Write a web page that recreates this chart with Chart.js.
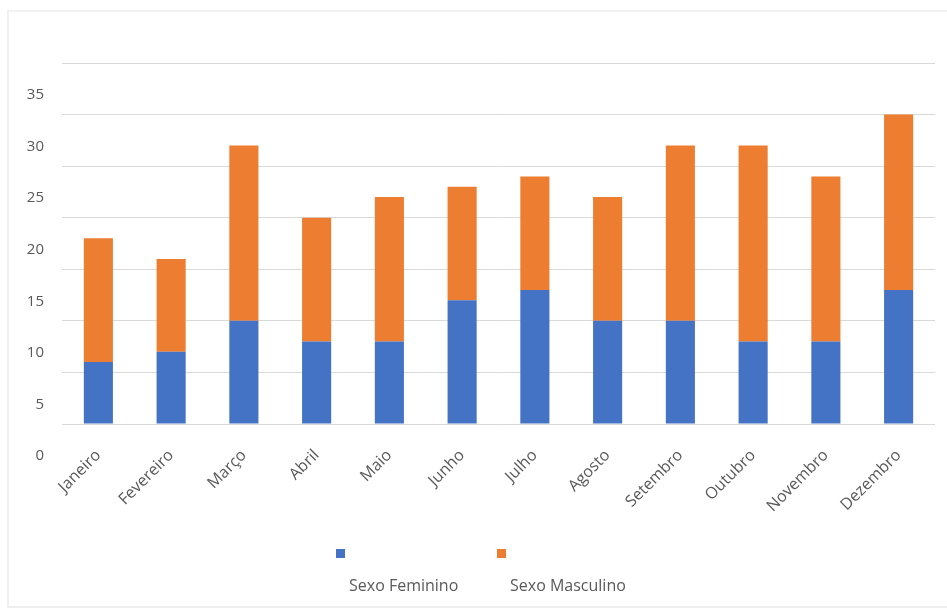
<!DOCTYPE html>
<html lang="pt">
<head>
<meta charset="utf-8">
<title>Casos por mês e sexo</title>
<script src="https://cdn.jsdelivr.net/npm/chart.js@4.4.0/dist/chart.umd.min.js"></script>
<style>
  body { margin: 0; background: #fff; }
  .wrap { position: relative; width: 947px; height: 615px; }
  .frame {
    position: absolute; left: 7px; top: 10px; right: 0; bottom: 7px;
    border-left: 2px solid #f0f0f0; border-top: 2px solid #f2f2f2; border-bottom: 2px solid #efefef;
    pointer-events: none;
  }
  #grafico { position: absolute; left: 0; top: 0; }
  #legenda {
    position: absolute; left: 336px; top: 549px; display: flex;
    font-family: "Open Sans", sans-serif; font-size: 16px; color: #595959;
  }
  #legenda .item { width: 161px; }
  #legenda .marca { width: 9px; height: 9px; }
  #legenda .texto { margin: 16px 0 0 13px; white-space: nowrap; }
</style>
</head>
<body>
<div class="wrap">
  <div class="frame"></div>
  <canvas id="grafico" width="947" height="615"></canvas>
  <div id="legenda"></div>
</div>
<script>
const meses = ["Janeiro", "Fevereiro", "Março", "Abril", "Maio", "Junho",
  "Julho", "Agosto", "Setembro", "Outubro", "Novembro", "Dezembro"];
const feminino = [6, 7, 10, 8, 8, 12, 13, 10, 10, 8, 8, 13];
const masculino = [12, 9, 17, 12, 14, 11, 11, 12, 17, 19, 16, 17];
const eixoY = [0, 5, 10, 15, 20, 25, 30, 35];

const cores = ["#4472C4", "#ED7D31"];

const chart = new Chart(document.getElementById("grafico"), {
  type: "bar",
  data: {
    labels: meses,
    datasets: [
      { label: "Sexo Feminino", data: feminino, backgroundColor: cores[0] },
      { label: "Sexo Masculino", data: masculino, backgroundColor: cores[1] },
    ],
  },
  options: {
    responsive: false,
    animation: false,
    barPercentage: 0.4,
    categoryPercentage: 1,
    layout: { padding: { top: 63, right: 12, left: 0, bottom: 0 } },
    plugins: { legend: { display: false }, tooltip: { enabled: false } },
    scales: {
      x: {
        stacked: true,
        grid: { display: false },
        border: { display: false },
        ticks: {
          color: "#595959", font: { family: "'Open Sans', sans-serif", size: 16 },
          maxRotation: 45, minRotation: 45, padding: 14,
        },
        afterFit: (s) => { s.height = 191; },
      },
      y: {
        stacked: true,
        min: eixoY[0],
        max: eixoY[eixoY.length - 1],
        afterBuildTicks: (s) => { s.ticks = eixoY.map((v) => ({ value: v })); },
        grid: { color: "#d9d9d9", drawTicks: false },
        border: { display: false },
        ticks: {
          color: "#595959", font: { family: "'Open Sans', sans-serif", size: 15 },
          padding: 18, labelOffset: 32,
        },
        afterFit: (s) => { s.width = 62; },
      },
    },
  },
});

// legenda: marcador em cima, nome abaixo
const legenda = document.getElementById("legenda");
chart.data.datasets.forEach((ds) => {
  const item = document.createElement("div");
  item.className = "item";
  item.innerHTML = `<div class="marca" style="background:${ds.backgroundColor}"></div><div class="texto">${ds.label}</div>`;
  legenda.appendChild(item);
});
</script>
</body>
</html>
